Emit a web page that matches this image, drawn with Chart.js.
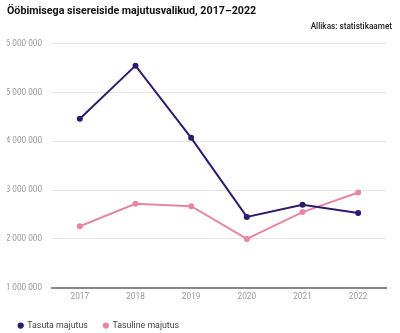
<!DOCTYPE html>
<html>
<head>
<meta charset="utf-8">
<script src="https://cdn.jsdelivr.net/npm/chart.js@4"></script>
<style>
  html, body { margin: 0; padding: 0; background: #fff; }
  #wrap { width: 400px; height: 333px; }
</style>
</head>
<body>
<div id="wrap"><canvas id="chart"></canvas></div>
<script>
const years = ['2017', '2018', '2019', '2020', '2021', '2022'];
const tasuta = [4460000, 5550000, 4070000, 2450000, 2700000, 2530000];
const tasuline = [2260000, 2720000, 2670000, 2000000, 2550000, 2950000];

Chart.defaults.font.family = 'Roboto, "Noto Sans", sans-serif';

function fmt(v) {
    return String(v).replace(/\B(?=(\d{3})+(?!\d))/g, ' ');
}

new Chart(document.getElementById('chart').getContext('2d'), {
    type: 'line',
    data: {
        labels: years,
        datasets: [{
            label: 'Tasuta majutus',
            data: tasuta,
            borderColor: '#2e1a6f',
            backgroundColor: '#2e1a6f',
            borderWidth: 2,
            pointRadius: 3,
            pointBorderWidth: 0,
            pointHoverRadius: 4
        }, {
            label: 'Tasuline majutus',
            data: tasuline,
            borderColor: '#e8869f',
            backgroundColor: '#e8869f',
            borderWidth: 2,
            pointRadius: 3,
            pointBorderWidth: 0,
            pointHoverRadius: 4
        }]
    },
    options: {
        responsive: true,
        maintainAspectRatio: false,
        animation: false,
        layout: { padding: { left: 7, right: 8, top: 0, bottom: -7 } },
        plugins: {
            title: {
                display: true,
                text: 'Ööbimisega sisereiside majutusvalikud, 2017–2022',
                align: 'start',
                color: '#111',
                font: { size: 10.7, weight: 'bold' },
                padding: { top: 5, bottom: 4 }
            },
            subtitle: {
                display: true,
                text: 'Allikas: statistikaamet',
                align: 'end',
                color: '#222',
                font: { size: 8.2, weight: '500' },
                padding: { top: 0, bottom: 12 }
            },
            legend: {
                position: 'bottom',
                align: 'start',
                labels: {
                    usePointStyle: true,
                    pointStyle: 'circle',
                    boxWidth: 4.4,
                    boxHeight: 4.4,
                    color: '#444',
                    font: { size: 8.8 },
                    padding: 11.5,
                    generateLabels: function (chart) {
                        const items = Chart.defaults.plugins.legend.labels.generateLabels(chart);
                        items.forEach(function (it, i) {
                            it.lineWidth = 0;
                            // wider gap after the first entry, as in the original
                            if (i === 0) it.text = it.text + '\u00a0\u00a0';
                        });
                        return items;
                    }
                }
            }
        },
        scales: {
            x: {
                offset: true,
                grid: { display: false, drawTicks: false },
                border: { display: true, color: '#888', width: 2 },
                afterFit: function (s) { s.height = 22; },
                ticks: { color: '#999', font: { size: 8.3 }, padding: 4 }
            },
            y: {
                min: 1000000,
                max: 6000000,
                grid: { color: '#e6e6e6', drawTicks: false },
                border: { display: false },
                afterFit: function (s) { s.width = 45; },
                ticks: {
                    stepSize: 1000000,
                    color: '#999',
                    font: { size: 8.2 },
                    padding: 10,
                    callback: function (v) { return fmt(v); }
                }
            },
            y2: {
                position: 'right',
                display: true,
                grid: { display: false },
                border: { display: false },
                ticks: { display: false },
                afterFit: function (s) { s.width = 6; }
            }
        }
    }
});
</script>
</body>
</html>
